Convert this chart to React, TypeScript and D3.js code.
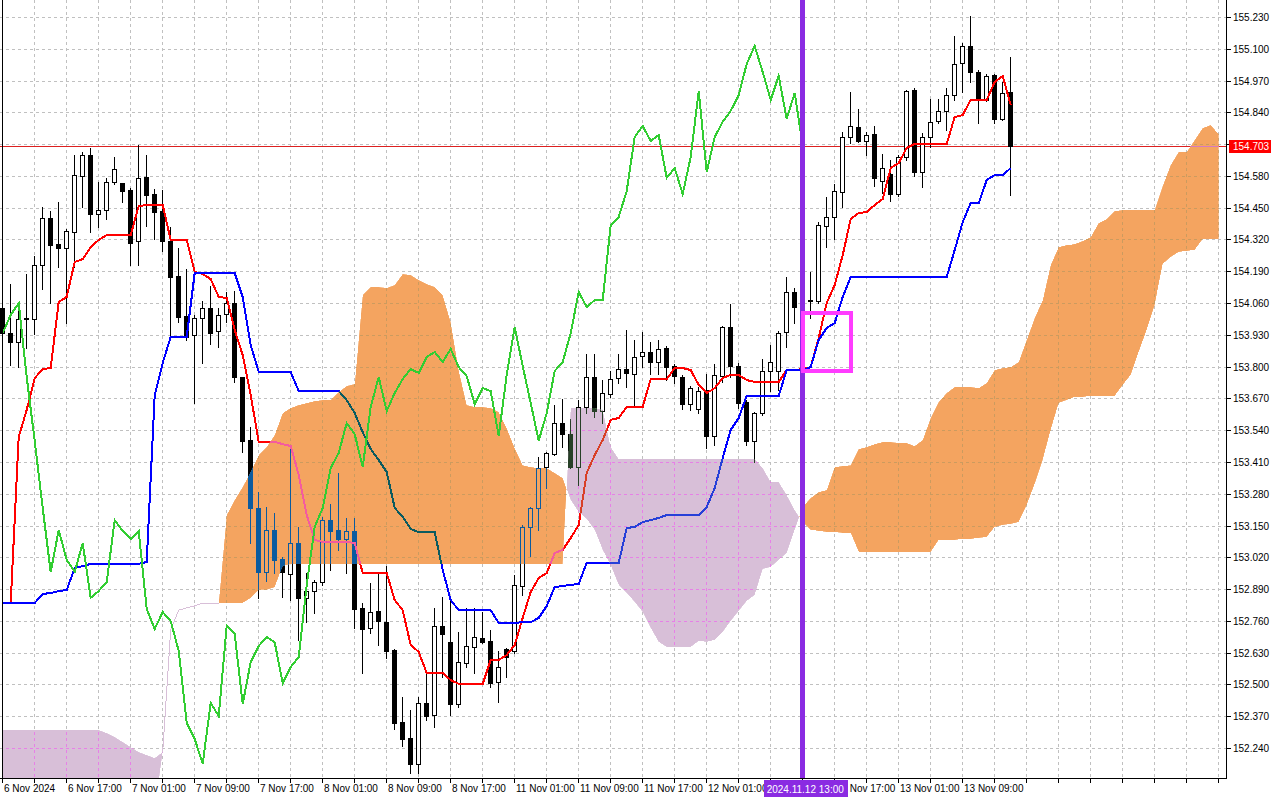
import React from 'react';
import * as d3 from 'd3';

// ---------- DATA (H1 bars) ----------
const opens = [
  154.040,153.937,153.901,153.995,153.995,154.216,154.408,154.301,154.285,154.351,
  154.580,154.666,154.424,154.441,154.555,154.551,154.522,154.314,154.576,154.506,
  154.436,154.314,154.171,154.007,153.929,153.999,154.040,153.946,154.015,154.060,
  153.757,153.500,153.222,152.960,153.132,153.013,152.952,153.078,152.854,152.882,
  152.919,153.172,153.132,153.095,153.128,152.813,152.731,152.800,152.755,152.641,
  152.346,152.281,152.175,152.424,152.375,152.739,152.674,152.420,152.588,152.653,
  152.690,152.678,152.510,152.645,152.637,152.903,153.144,153.222,153.389,153.443,
  153.569,153.524,153.389,153.635,153.757,153.618,153.688,153.753,153.790,153.770,
  153.843,153.860,153.819,153.876,153.802,153.757,153.647,153.627,153.704,153.516,
  153.761,153.962,153.802,153.655,153.496,153.610,153.782,153.782,153.941,154.105,
  154.048,154.070,154.068,154.375,154.412,154.514,154.739,154.780,154.723,154.751,
  154.559,154.588,154.506,154.657,154.931,154.596,154.739,154.805,154.846,154.911,
  155.042,155.111,155.005,154.891,154.993,154.813,154.923,
];
const highs = [
  154.072,154.138,154.060,154.179,154.252,154.453,154.436,154.473,154.363,154.666,
  154.678,154.694,154.555,154.572,154.657,154.553,154.531,154.706,154.666,154.527,
  154.522,154.371,154.285,154.199,154.011,154.068,154.130,154.040,154.105,154.109,
  153.757,153.553,153.287,153.226,153.201,153.021,153.467,153.144,152.956,152.927,
  153.185,153.238,153.365,153.181,153.181,152.833,152.915,152.952,152.984,152.645,
  152.449,152.395,152.449,152.547,152.813,152.858,152.858,152.714,152.813,152.813,
  152.796,152.723,152.637,152.647,152.948,153.152,153.225,153.430,153.450,153.643,
  153.668,153.586,153.663,153.852,153.852,153.745,153.782,153.852,153.950,153.909,
  153.942,153.901,153.909,153.884,153.811,153.766,153.721,153.717,153.770,153.811,
  153.966,154.056,153.815,153.663,153.614,153.831,153.888,153.946,154.166,154.121,
  154.113,154.187,154.391,154.494,154.547,154.760,154.923,154.854,154.760,154.784,
  154.670,154.645,154.666,154.931,154.940,154.756,154.895,154.895,154.940,155.152,
  155.124,155.234,155.013,154.997,154.997,154.964,155.066,
];
const lows = [
  153.901,153.807,153.798,153.876,153.933,154.117,154.060,154.207,153.978,154.207,
  154.453,154.351,154.371,154.404,154.547,154.473,154.216,154.216,154.375,154.322,
  154.273,153.925,153.982,153.909,153.651,153.815,153.892,153.880,153.982,153.737,
  153.451,153.078,152.854,152.923,152.956,152.858,152.845,152.682,152.755,152.792,
  152.907,152.968,153.050,152.956,152.731,152.547,152.710,152.661,152.608,152.318,
  152.248,152.138,152.138,152.355,152.326,152.530,152.375,152.408,152.571,152.547,
  152.669,152.489,152.428,152.530,152.629,152.866,153.025,153.132,153.303,153.438,
  153.471,153.385,153.316,153.610,153.594,153.569,153.676,153.733,153.717,153.639,
  153.798,153.770,153.770,153.745,153.733,153.627,153.622,153.610,153.467,153.479,
  153.737,153.757,153.631,153.479,153.410,153.602,153.700,153.704,153.880,153.978,
  154.023,153.999,154.060,154.289,154.322,154.453,154.715,154.719,154.666,154.539,
  154.510,154.477,154.498,154.645,154.580,154.535,154.698,154.796,154.768,154.891,
  154.923,154.964,154.796,154.887,154.796,154.809,154.502,
];
const closes = [
  153.937,153.901,153.995,153.999,154.216,154.408,154.297,154.285,154.355,154.584,
  154.666,154.424,154.441,154.555,154.608,154.518,154.306,154.572,154.502,154.432,
  154.314,154.166,154.003,153.921,153.999,154.040,153.937,154.011,154.060,153.757,
  153.496,153.222,152.960,153.132,153.009,152.960,153.078,152.854,152.882,152.919,
  153.172,153.128,153.095,153.128,152.809,152.727,152.796,152.759,152.637,152.342,
  152.277,152.175,152.424,152.371,152.739,152.706,152.420,152.592,152.657,152.694,
  152.672,152.506,152.571,152.612,152.907,153.144,153.222,153.385,153.447,153.569,
  153.524,153.389,153.635,153.757,153.618,153.692,153.749,153.790,153.774,153.839,
  153.860,153.819,153.872,153.798,153.761,153.647,153.712,153.700,153.516,153.766,
  153.962,153.802,153.651,153.496,153.610,153.782,153.819,153.937,154.105,154.044,
  154.072,154.072,154.379,154.412,154.518,154.739,154.784,154.723,154.747,154.572,
  154.612,154.506,154.657,154.927,154.596,154.739,154.801,154.846,154.911,155.038,
  155.111,155.005,154.891,154.989,154.813,154.919,154.703,
];
const tenkan = [
  152.833,152.833,153.512,153.623,153.753,153.790,153.794,154.064,154.085,154.228,
  154.240,154.289,154.318,154.338,154.338,154.338,154.338,154.457,154.461,154.461,
  154.461,154.318,154.318,154.318,154.187,154.179,154.158,154.085,154.081,153.950,
  153.847,153.684,153.492,153.492,153.492,153.483,153.475,153.357,153.193,153.091,
  153.083,153.083,153.083,153.083,153.078,152.956,152.956,152.956,152.956,152.845,
  152.804,152.661,152.633,152.547,152.547,152.547,152.518,152.502,152.502,152.502,
  152.502,152.600,152.600,152.620,152.661,152.772,152.878,152.935,152.956,153.038,
  153.050,153.099,153.152,153.365,153.438,153.500,153.582,153.590,153.635,153.635,
  153.635,153.749,153.749,153.749,153.794,153.794,153.786,153.725,153.692,153.712,
  153.753,153.766,153.766,153.745,153.737,153.737,153.737,153.737,153.786,153.786,
  153.790,153.798,153.917,154.060,154.134,154.256,154.404,154.428,154.432,154.461,
  154.486,154.612,154.633,154.694,154.711,154.711,154.711,154.711,154.711,154.821,
  154.829,154.891,154.891,154.891,154.964,154.989,154.870,
];
const kijun = [
  152.833,152.833,152.833,152.833,152.833,152.870,152.874,152.882,152.886,152.976,
  152.984,152.993,152.993,152.993,152.993,152.993,152.993,152.993,153.001,153.684,
  153.815,153.921,153.921,153.921,154.183,154.183,154.183,154.183,154.183,154.183,
  154.085,153.888,153.778,153.778,153.778,153.778,153.778,153.700,153.700,153.700,
  153.700,153.700,153.700,153.663,153.610,153.532,153.463,153.418,153.369,153.222,
  153.185,153.136,153.123,153.123,153.123,152.968,152.845,152.804,152.804,152.804,
  152.804,152.804,152.751,152.751,152.751,152.755,152.755,152.772,152.821,152.898,
  152.903,152.907,152.911,152.997,152.997,152.997,152.997,152.997,153.140,153.144,
  153.164,153.172,153.181,153.193,153.193,153.193,153.193,153.193,153.226,153.303,
  153.426,153.541,153.590,153.680,153.680,153.680,153.680,153.680,153.786,153.786,
  153.786,153.798,153.909,153.958,153.978,154.085,154.166,154.166,154.166,154.166,
  154.166,154.166,154.166,154.166,154.166,154.166,154.166,154.166,154.166,154.277,
  154.391,154.469,154.469,154.563,154.584,154.584,154.612,
];
const spanA = [
  151.980,151.980,151.980,151.980,151.980,151.980,151.980,151.980,151.980,151.980,
  151.980,151.980,151.980,151.980,151.980,151.980,151.980,151.980,151.980,151.980,
  152.224,152.723,152.804,152.813,152.821,152.833,152.833,152.833,153.193,153.254,
  153.308,153.369,153.438,153.471,153.520,153.610,153.631,153.643,153.651,153.659,
  153.663,153.663,153.696,153.721,153.729,154.093,154.126,154.126,154.122,154.134,
  154.179,154.175,154.154,154.138,154.126,154.093,153.982,153.786,153.643,153.635,
  153.635,153.631,153.614,153.549,153.467,153.397,153.389,153.385,153.385,153.365,
  153.344,153.254,153.205,153.177,153.132,153.050,152.988,152.907,152.874,152.837,
  152.796,152.731,152.674,152.653,152.653,152.653,152.653,152.678,152.674,152.682,
  152.714,152.759,152.800,152.841,152.866,152.972,152.980,153.009,153.038,153.132,
  153.226,153.263,153.287,153.295,153.389,153.393,153.397,153.463,153.471,153.483,
  153.492,153.492,153.488,153.488,153.475,153.500,153.590,153.655,153.692,153.717,
  153.717,153.717,153.712,153.733,153.786,153.794,153.798,153.819,153.909,153.999,
  154.072,154.216,154.289,154.297,154.301,154.314,154.330,154.387,154.404,154.436,
  154.441,154.441,154.441,154.441,154.441,154.539,154.625,154.678,154.678,154.727,
  154.776,154.788,154.751,
];
const spanB = [
  152.314,152.314,152.314,152.314,152.314,152.314,152.314,152.314,152.314,152.314,
  152.314,152.314,152.314,152.301,152.285,152.265,152.244,152.224,152.211,152.199,
  152.224,152.723,152.804,152.813,152.821,152.833,152.833,152.833,152.833,152.833,
  152.833,152.854,152.887,152.887,152.898,152.984,152.993,152.993,152.993,152.993,
  152.993,152.993,152.993,152.993,152.993,152.993,152.993,152.993,152.993,152.993,
  152.993,152.993,152.993,152.993,152.993,152.993,152.993,152.993,152.993,152.993,
  152.993,152.993,152.993,152.993,152.993,152.993,152.993,152.993,152.993,152.993,
  152.993,153.631,153.631,153.631,153.631,153.623,153.471,153.422,153.422,153.422,
  153.422,153.422,153.422,153.422,153.422,153.422,153.422,153.422,153.422,153.422,
  153.422,153.422,153.422,153.422,153.422,153.385,153.328,153.328,153.275,153.213,
  153.164,153.132,153.128,153.123,153.123,153.119,153.119,153.042,153.042,153.042,
  153.042,153.042,153.042,153.042,153.042,153.042,153.042,153.091,153.091,153.091,
  153.095,153.095,153.099,153.103,153.144,153.152,153.156,153.164,153.234,153.320,
  153.418,153.541,153.651,153.663,153.676,153.676,153.680,153.680,153.680,153.680,
  153.725,153.766,153.860,153.950,154.052,154.220,154.248,154.269,154.273,154.277,
  154.322,154.322,154.322,
];
const priceTicks = [
  152.24,152.37,152.50,152.63,152.76,152.89,153.02,153.15,153.28,153.41,153.54,153.67,
  153.80,153.93,154.06,154.19,154.32,154.45,154.58,154.71,154.84,154.97,155.10,155.23,
];
const timeLabelBars = [0,8,16,24,32,40,48,56,64,72,80,88,96,104,112,120];
const timeLabelTexts = [
  '6 Nov 2024','6 Nov 17:00','7 Nov 01:00','7 Nov 09:00','7 Nov 17:00','8 Nov 01:00',
  '8 Nov 09:00','8 Nov 17:00','11 Nov 01:00','11 Nov 09:00','11 Nov 17:00','12 Nov 01:00',
  '12 Nov 09:00','12 Nov 17:00','13 Nov 01:00','13 Nov 09:00',
];
const currentPrice = 154.703;
const chikouShift = 26;
const markerBar = 100;
const markerLabel = '2024.11.12 13:00';
const boxBars = [100, 106];
const boxPrices = [154.02, 153.78];

// ---------- LAYOUT / STYLE ----------
const W = 1280, H = 800;
const PR = 1227, PB = 778;
const ORANGE = '#f4a460';
const LAV = '#d8bfd8';
const FONT = '"Liberation Sans", Arial, sans-serif';

const x = d3.scaleLinear().domain([0, 152]).range([2.7, 2.7 + 8 * 152]);
const y = d3.scaleLinear().domain([152.24, 155.23]).range([748, 17]);

function xorInv(hex: string, cloud: string) {
  const a = d3.rgb(hex), b = d3.rgb(cloud);
  const r = (255 - Math.round(a.r)) ^ Math.round(b.r);
  const g = (255 - Math.round(a.g)) ^ Math.round(b.g);
  const bl = (255 - Math.round(a.b)) ^ Math.round(b.b);
  return d3.rgb(r, g, bl).formatHex();
}

// cloud polygons between Senkou A and B
const orangeParts: string[] = [];
const lavParts: string[] = [];
const flatParts: string[] = [];
const poly = (pts: number[][]) => 'M' + pts.map(p => p[0].toFixed(2) + ',' + p[1].toFixed(2)).join('L') + 'Z';
for (let i = 0; i < spanA.length - 1; i++) {
  const a0 = spanA[i], b0 = spanB[i], a1 = spanA[i + 1], b1 = spanB[i + 1];
  const d0 = a0 - b0, d1 = a1 - b1;
  const x0 = x(i), x1 = x(i + 1);
  if (Math.abs(d0) < 1e-9 && Math.abs(d1) < 1e-9) {
    flatParts.push(`M${x0},${y(a0)}L${x1},${y(a1)}`);
    continue;
  }
  if (d0 >= 0 && d1 >= 0) orangeParts.push(poly([[x0, y(a0)], [x1, y(a1)], [x1, y(b1)], [x0, y(b0)]]));
  else if (d0 <= 0 && d1 <= 0) lavParts.push(poly([[x0, y(a0)], [x1, y(a1)], [x1, y(b1)], [x0, y(b0)]]));
  else {
    const t = d0 / (d0 - d1);
    const xc = x0 + t * (x1 - x0);
    const pc = a0 + t * (a1 - a0);
    const first = poly([[x0, y(a0)], [xc, y(pc)], [x0, y(b0)]]);
    const second = poly([[xc, y(pc)], [x1, y(a1)], [x1, y(b1)]]);
    (d0 > 0 ? orangeParts : lavParts).push(first);
    (d1 > 0 ? orangeParts : lavParts).push(second);
  }
}
const orangePath = orangeParts.join('');
const lavPath = lavParts.join('');
const flatPath = flatParts.join('');

const lineGen = d3.line<number>().x((_, i) => x(i)).y(v => y(v));
const chikou = closes.slice(chikouShift);

const gridXs: number[] = [];
for (let b = 0; b <= 152; b += 4) gridXs.push(b);

function Base({ mode }: { mode: 'n' | 'o' | 'l' }) {
  const col = (c: string) => (mode === 'n' ? c : xorInv(c, mode === 'o' ? ORANGE : LAV));
  const grid = col('#c0c0c0');
  return (
    <g>
      {priceTicks.map((p, k) => (
        <line key={'h' + k} x1={0} x2={PR} y1={Math.round(y(p)) + 0.5} y2={Math.round(y(p)) + 0.5}
          stroke={grid} strokeDasharray="3 3" />
      ))}
      {gridXs.slice(1).map(b => (
        <line key={'v' + b} x1={Math.floor(x(b)) + 0.5} x2={Math.floor(x(b)) + 0.5} y1={0} y2={PB}
          stroke={grid} strokeDasharray="3 3" />
      ))}
      <line x1={0} x2={PR} y1={Math.round(y(currentPrice)) + 0.5} y2={Math.round(y(currentPrice)) + 0.5}
        stroke={col('#dd2020')} />
      {opens.map((o, i) => {
        const c = closes[i];
        const cx = Math.floor(x(i)) + 0.5;
        const up = c >= o;
        const yt = Math.round(y(Math.max(o, c))) + 0.5;
        const yb = Math.round(y(Math.min(o, c))) + 0.5;
        return (
          <g key={'c' + i}>
            <line x1={cx} x2={cx} y1={Math.round(y(highs[i]))} y2={Math.round(y(lows[i])) + 1} stroke={col('#000000')} />
            <path d={`M${cx - 2},${yt}H${cx + 2}V${yb}H${cx - 2}Z`} fill={col(up ? '#ffffff' : '#000000')} stroke={col('#000000')} />
          </g>
        );
      })}
      <path d={lineGen(tenkan) || ''} fill="none" stroke={col('#ff0000')} strokeWidth={2} />
      <path d={lineGen(kijun) || ''} fill="none" stroke={col('#0000ff')} strokeWidth={2} />
    </g>
  );
}

export default function App() {
  const yCur = y(currentPrice);
  const mx = x(markerBar);
  const boxL = mx - 39, boxR = mx + 45;
  // approximate text width for label placement around the marker label box
  const approxW = (s: string) => s.length * 4.7;
  const timeLabels = timeLabelBars.map((b, k) => {
    const lx = Math.floor(x(b)) + 2;
    const txt = timeLabelTexts[k];
    const rx = lx + approxW(txt);
    if (lx < boxL || lx >= boxR) return { lx, txt };
    if (rx > boxR + 30) {
      // partly covered by the marker box: only the uncovered tail stays visible
      const tail = txt.slice(txt.indexOf(' ') + 1);
      return { lx: boxR + 2, txt: tail };
    }
    return null;
  }).filter(Boolean) as { lx: number; txt: string }[];
  return (
    <div style={{ position: 'absolute', left: 0, top: 0 }}>
      <svg width={W} height={H} style={{ display: 'block', background: '#fff' }} shapeRendering="crispEdges">
        <defs>
          <clipPath id="plot"><rect x={0} y={0} width={PR} height={PB} /></clipPath>
          <clipPath id="cO"><path d={orangePath} /></clipPath>
          <clipPath id="cL"><path d={lavPath} /></clipPath>
        </defs>
        <rect x={0} y={0} width={W} height={H} fill="#fff" />
        <g clipPath="url(#plot)">
          <Base mode="n" />
          <g clipPath="url(#cO)">
            <path d={orangePath} fill={ORANGE} />
            <Base mode="o" />
          </g>
          <g clipPath="url(#cL)">
            <path d={lavPath} fill={LAV} />
            <Base mode="l" />
          </g>
          <path d={flatPath} fill="none" stroke={LAV} strokeWidth={1} />
          <path d={lineGen(chikou) || ''} fill="none" stroke="#32cd32" strokeWidth={2} />
          <line x1={2.5} x2={2.5} y1={0} y2={PB} stroke="#000" />
          <rect x={mx - 2.7} y={0} width={5} height={PB} fill="#8a2be2" />
          <rect x={x(boxBars[0])} y={y(boxPrices[0])} width={x(boxBars[1]) - x(boxBars[0])}
            height={y(boxPrices[1]) - y(boxPrices[0])} fill="none" stroke="#ff3cff" strokeWidth={4} />
        </g>
        {/* axes */}
        <line x1={PR - 0.5} x2={PR - 0.5} y1={0} y2={PB} stroke="#000" />
        <line x1={0} x2={PR} y1={PB + 0.5} y2={PB + 0.5} stroke="#000" />
        {priceTicks.map((p, k) => {
          const yy = Math.round(y(p)) + 0.5;
          const hidden = Math.abs(yy - yCur) < 10;
          return (
            <g key={'pt' + k}>
              <line x1={PR} x2={PR + 4} y1={yy} y2={yy} stroke="#000" />
              {!hidden && (
                <text x={PR + 6} y={yy + 3.5} fontSize={10} fontFamily={FONT} fill="#000">{p.toFixed(3)}</text>
              )}
            </g>
          );
        })}
        {gridXs.map(b => (
          <line key={'xt' + b} x1={Math.floor(x(b)) + 0.5} x2={Math.floor(x(b)) + 0.5} y1={PB} y2={PB + 5} stroke="#000" />
        ))}
        {timeLabels.map((t, k) => (
          <text key={'tl' + k} x={t.lx} y={792} fontSize={10} fontFamily={FONT} fill="#000">{t.txt}</text>
        ))}
        <rect x={PR + 2} y={Math.round(yCur) - 6.5} width={42} height={13} fill="#ff0000" />
        <text x={PR + 6} y={Math.round(yCur) + 4} fontSize={10} fontFamily={FONT} fill="#fff">{currentPrice.toFixed(3)}</text>
        <rect x={boxL} y={780} width={boxR - boxL} height={17} fill="#8a2be2" />
        <text x={mx - 36} y={792.5} fontSize={10} fontFamily={FONT} fill="#fff">{markerLabel}</text>
      </svg>
    </div>
  );
}
